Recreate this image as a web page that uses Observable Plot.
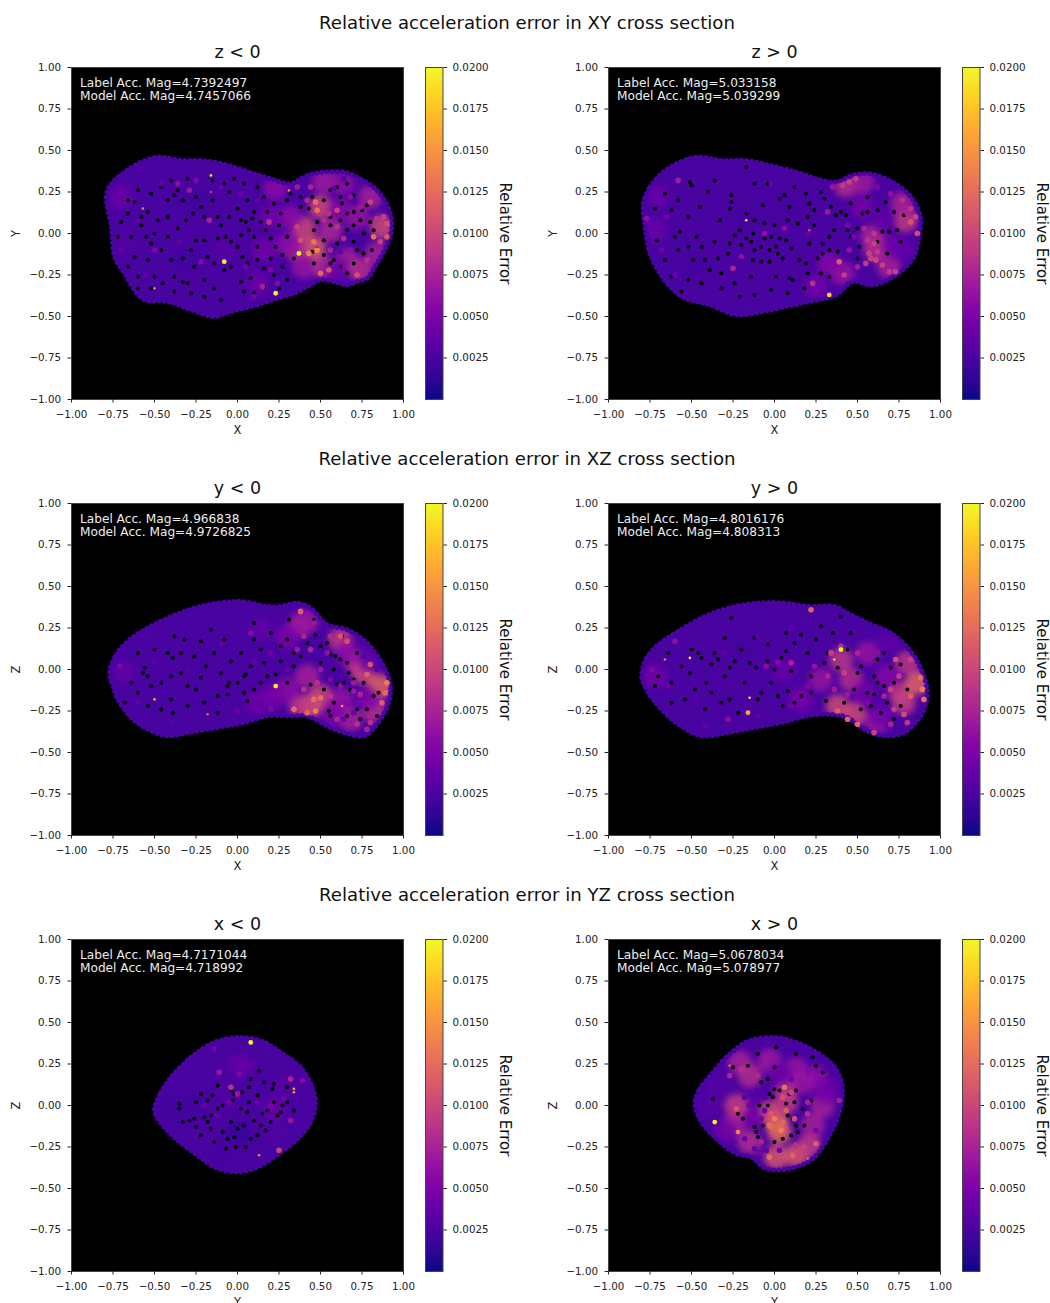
<!DOCTYPE html>
<html><head><meta charset="utf-8">
<script src="https://cdn.jsdelivr.net/npm/d3@7"></script>
<script src="https://cdn.jsdelivr.net/npm/@observablehq/plot@0.6"></script>
<style>
html,body{margin:0;padding:0;background:#fff}
#page{position:relative;width:1050px;height:1303px;overflow:hidden;background:#fff;font-family:"DejaVu Sans",sans-serif;color:#111}
.sup{position:absolute;left:0;width:1054px;text-align:center;font-size:18.15px;line-height:20px}
#page svg{position:absolute;overflow:visible;background:transparent}
</style></head><body><div id="page"></div>
<script>
const axisTicks=[-1,-.75,-.5,-.25,0,.25,.5,.75,1];
const barTicks=[.0025,.005,.0075,.01,.0125,.015,.0175,.02];
const sectionTitles=["Relative acceleration error in XY cross section","Relative acceleration error in XZ cross section","Relative acceleration error in YZ cross section"];
const baseError=.0024;

const xyNegOutline=[[-.79,.23],[-.76,.30],[-.68,.37],[-.58,.43],[-.48,.46],[-.34,.44],[-.24,.44],[-.14,.43],[-.02,.40],[.10,.36],[.20,.33],[.32,.30],[.42,.35],[.52,.37],[.64,.37],[.74,.33],[.84,.26],[.91,.15],[.93,.04],[.90,-.07],[.84,-.18],[.78,-.27],[.72,-.29],[.66,-.31],[.58,-.29],[.50,-.28],[.42,-.32],[.34,-.36],[.24,-.39],[.12,-.43],[-.04,-.47],[-.14,-.50],[-.28,-.46],[-.42,-.41],[-.56,-.40],[-.62,-.34],[-.68,-.24],[-.74,-.14],[-.76,.04]];
const xyNegWash=[[.23,.27,.0058],[.40,.03,.0105],[.46,-.09,.012],[.50,.16,.0105],[.56,.02,.008],[.66,-.16,.0072],[.72,.10,.0065],[.87,.04,.0105],[.80,.22,.0075],[.64,.30,.006],[.52,.31,.007],[.36,-.10,.0085],[.32,.10,.006],[.30,-.06,.0058],[.40,-.20,.0065],[.52,-.20,.0085],[.16,-.10,.0045],[.12,-.30,.004],[-.08,-.10,.003],[-.70,.22,.004],[.20,.10,.0045],[-.25,.2,.002],[-.3,-.15,.002],[-.68,-.05,.0028],[.6,-.22,.0042],[.62,.14,.0055],[.84,-.12,.0075],[.74,-.22,.0085]];
const xyNegGrain=[[-.17,.08,.0072],[-.36,.30,.0058],[-.29,.26,.0065],[-.25,.32,.0052],[-.50,-.1,.005],[-.22,-.17,.0055],[.15,-.32,.0075],[.19,.07,.0085],[.82,-.02,.0125],[.90,-.02,.011],[.84,.09,.0085],[.80,.19,.0095],[.58,.27,.0035],[.64,.33,.0028],[.60,-.21,.0038],[.70,.02,.0042],[.62,-.11,.0035],[.55,.12,.0085],[.60,.14,.0095],[.47,.19,.0125],[.48,.14,.0125],[.43,-.12,.0135],[.48,-.10,.014],[.46,-.05,.013],[.64,-.03,.008],[.72,-.25,.0105],[.50,-.24,.012],[.55,-.22,.011],[.36,.28,.007],[-.6,.08,.0035],[-.46,.3,.0035],[-.1,.28,.0036],[.02,.24,.0038],[.12,.2,.0034],[-.35,-.05,.0035],[-.55,-.25,.0036],[-.7,-.1,.0036],[.05,-.2,.0042],[.2,-.22,.0052],[.1,-.38,.0046],[.24,-.3,.0055],[.68,.22,.0058],[.74,.16,.0065],[.56,-.1,.0075],[.68,-.1,.006],[.78,-.16,.0085],[.88,.1,.0095],[.9,.06,.0105],[.86,-.05,.0095],[.6,.04,.0085],[.52,.08,.008],[.42,.2,.0075],[.44,.28,.0075],[.36,.04,.0095],[.38,-.04,.0105]];
const xyNegHoles=[[-.48,.08],[-.31,.08],[-.36,.26],[-.38,.23],[-.62,.19],[-.66,.20],[-.54,.13],[-.52,-.06],[-.62,-.14],[-.46,-.10],[-.38,-.26],[-.33,-.29],[-.30,-.30],[-.18,-.14],[-.07,-.02],[-.04,-.05],[0,.15],[.06,.20],[.07,.02],[.05,.07],[0,-.08],[.14,.07],[.12,-.08],[.16,-.21],[.04,-.35],[.16,-.32],[.30,.20],[.32,.24],[.43,.15],[.48,.07],[.46,.02],[.48,-.09],[.45,-.11],[.52,.20],[.60,.28],[.66,.30],[.70,.23],[.78,.17],[.75,.14],[.66,.02],[.70,.05],[.56,-.18],[.58,-.16],[.60,-.06],[.81,-.10],[.82,.02],[-.6,-.33],[-.5,-.26],[-.2,-.28],[-.14,-.33],[-.04,-.2],[.08,-.27],[-.1,.05],[-.2,.1],[-.42,.2],[-.5,.0],[-.58,.05],[-.25,-.04],[-.33,-.15],[.2,-.03],[.27,-.13],[.25,.05],[.1,.13],[-.05,.25],[-.15,.32],[.38,.22],[.63,.18],[.7,.13],[.72,-.1],[.66,-.24],[.56,.1],[.22,-.25],[-.45,-.3],[-.2,-.38],[.03,-.14],[-.66,.12],[-.6,.26],[-.52,.24],[-.46,.28],[-.4,.32],[-.3,.33],[-.33,.2],[-.25,.22],[-.22,.16],[-.15,.2],[-.08,.3],[-.02,.33],[.04,.3],[.12,.28],[.16,.22],[.22,.18],[.26,.12],[.18,.13],[-.05,.1],[.02,.08],[.09,.09],[-.12,.1],[-.27,.12],[-.42,.1],[-.58,.1],[-.7,.07],[-.72,-.02],[-.64,-.02],[-.55,-.02],[-.42,-.02],[-.36,.03],[-.28,-.1],[-.2,-.04],[-.12,-.03],[.02,-.01],[.1,-.02],[.17,.02],[.23,-.08],[.3,-.02],[.34,-.15],[.2,-.15],[.12,-.16],[.06,-.18],[-.08,-.22],[-.14,-.18],[-.26,-.2],[-.4,-.16],[-.54,-.16],[-.66,-.2],[-.6,-.26],[-.52,-.33],[-.38,-.35],[-.28,-.36],[-.1,-.4],[.02,-.29],[.1,-.36],[.25,-.33],[.3,-.28],[.27,-.2],[.38,.16],[.45,.22],[.56,.26],[.62,.22],[.66,.12],[.74,.08],[.8,.07],[.76,.0],[.62,.08],[.56,.05],[.52,-.04],[.7,-.05],[.76,-.12],[.7,-.18],[.62,-.2],[.52,-.13],[.46,-.18]];
const xyNegSpikes=[[-.08,-.17,.02],[.23,-.36,.02],[.37,-.12,.02]];
const xyNegSpecks=[[-.16,.35,.0185],[-.57,.15,.0135],[-.5,-.33,.014],[-.16,.25,.0095],[.31,.26,.0135]];

const xyPosOutline=[[-.79,.18],[-.75,.28],[-.67,.37],[-.57,.43],[-.47,.46],[-.31,.44],[-.17,.44],[-.03,.41],[.13,.37],[.25,.33],[.37,.31],[.47,.35],[.57,.36],[.71,.31],[.83,.21],[.88,.09],[.87,-.02],[.84,-.14],[.73,-.25],[.59,-.31],[.47,-.29],[.37,-.37],[.21,-.41],[.07,-.44],[-.07,-.47],[-.23,-.49],[-.39,-.43],[-.54,-.39],[-.62,-.33],[-.69,-.24],[-.75,-.12],[-.78,.04]];
const xyPosWash=[[.43,.29,.0085],[.53,.31,.007],[.79,.08,.0095],[.77,.18,.0075],[.61,-.10,.0085],[.59,-.02,.008],[.41,-.24,.0065],[.69,-.2,.0075],[.66,.08,.0035],[.53,.16,.0045],[.33,-.18,.0055],[.25,-.32,.0045],[-.72,.02,.004],[-.70,.22,.0038],[.72,-.08,.0045],[.78,-.1,.0035],[-.2,.1,.0022],[.1,.15,.0022],[-.45,-.2,.0022]];
const xyPosGrain=[[-.58,.32,.007],[-.77,.09,.006],[-.2,-.14,.006],[-.25,-.21,.0075],[.23,-.30,.0085],[.39,-.17,.0115],[.32,.13,.0065],[.06,.03,.006],[-.06,0,.006],[.61,-.16,.01],[.57,-.12,.0095],[.6,-.06,.0095],[.73,-.23,.0095],[.82,.07,.011],[.85,.10,.0095],[.86,0,.0105],[.77,.2,.0085],[.45,.31,.0095],[.49,.33,.009],[.41,.29,.009],[.55,-.18,.009],[.65,-.19,.0095],[.69,-.23,.009],[.54,.03,.0075],[.42,-.25,.009],[.82,.15,.0088],[.8,.12,.0075],[.58,-.15,.0095],[.62,-.11,.0092],[.6,.0,.0088],[.56,-.04,.0085],[.7,.24,.006],[.62,.28,.0052],[.35,.28,.0065],[-.68,-.1,.0042],[-.6,-.25,.0038],[-.65,.1,.0042],[.2,.0,.0038],[.45,-.1,.0062],[.5,-.2,.007],[.44,.05,.0052],[.48,-.02,.005],[-.02,.3,.0038]];
const xyPosHoles=[[-.51,.31],[-.5,.29],[-.26,.23],[-.26,.19],[-.17,.40],[.06,.23],[.03,.21],[.28,.25],[.30,.21],[.19,.24],[-.07,.17],[-.27,.15],[-.62,.14],[-.45,.16],[.46,.18],[.40,.13],[.37,.11],[.44,.02],[.43,.11],[.78,.11],[.67,.19],[.65,.01],[.69,.01],[.76,-.05],[.68,-.12],[.38,-.11],[.29,-.06],[.29,-.12],[.07,-.04],[.09,-.27],[.11,-.28],[-.32,-.33],[-.21,-.38],[-.39,-.22],[-.42,-.16],[-.57,.01],[-.72,.15],[-.71,-.04],[-.58,-.10],[-.47,-.02],[-.17,-.03],[-.13,0],[-.08,-.08],[-.03,-.17],[-.08,-.17],[.01,-.08],[.15,-.16],[.19,-.18],[.09,.16],[.21,.18],[-.21,.02],[-.27,-.06],[-.36,-.05],[-.49,-.16],[.53,.12],[.56,.13],[.51,-.08],[.33,-.02],[.24,.05],[.21,-.06],[-.33,.08],[-.56,-.35],[-.14,-.26],[.01,-.26],[-.02,-.02],[.02,-.12],[-.12,-.1],[-.66,.24],[-.58,.2],[-.52,.1],[-.4,.25],[-.36,.32],[-.12,.3],[-.04,.3],[.12,.28],[.2,.1],[.14,.06],[.08,.08],[-.17,.12],[-.12,.08],[-.06,.06],[.0,.05],[-.24,-.01],[-.2,-.07],[-.14,-.05],[-.06,-.03],[.03,-.03],[.1,-.09],[.05,-.15],[-.03,-.1],[-.13,-.16],[-.2,-.15],[-.28,-.12],[-.34,-.15],[-.44,-.08],[-.52,-.08],[-.6,-.02],[-.66,-.16],[-.62,-.26],[-.52,-.28],[-.44,-.3],[-.32,-.24],[-.24,-.3],[-.12,-.37],[-.02,-.34],[.08,-.36],[.18,-.33],[.2,-.24],[.28,-.24],[.33,-.26],[.33,-.1],[.26,-.15],[.24,.14],[.34,.16],[.5,.03],[.36,.02],[.56,.22],[.62,.14],[.72,.13],[.74,.02],[.62,-.05],[.5,-.15],[.46,-.02]];
const xyPosSpikes=[[.33,-.37,.018]];
const xyPosSpecks=[[-.17,.08,.019],[.21,.02,.0105]];

const xzNegOutline=[[-.77,-.02],[-.73,.09],[-.66,.17],[-.56,.24],[-.42,.31],[-.26,.37],[-.12,.40],[.02,.41],[.18,.38],[.26,.38],[.36,.40],[.44,.37],[.54,.27],[.66,.24],[.78,.16],[.88,.02],[.92,-.09],[.91,-.20],[.84,-.33],[.76,-.40],[.64,-.38],[.54,-.34],[.42,-.28],[.32,-.28],[.18,-.28],[.04,-.32],[-.12,-.35],[-.30,-.38],[-.42,-.40],[-.54,-.36],[-.64,-.29],[-.72,-.18],[-.75,-.10]];
const xzNegWash=[[.42,-.04,.0075],[.44,-.22,.0115],[.50,-.16,.0105],[.38,-.22,.009],[.38,.27,.0075],[.42,.29,.0065],[.62,.18,.0095],[.76,-.02,.0105],[.72,.04,.009],[.86,-.10,.0125],[.82,-.24,.009],[.68,-.3,.0075],[.66,.10,.006],[.30,-.12,.006],[.22,-.16,.0048],[.62,-.18,.0065],[.58,-.26,.0055],[.78,-.18,.005],[.80,.06,.0035],[.30,.20,.005],[.14,.24,.0035],[.12,-.2,.0042],[-.68,-.02,.0035],[-.2,.1,.0022],[-.2,-.2,.0022]];
const xzNegGrain=[[.08,.22,.0055],[.38,.35,.0115],[.44,.12,.0075],[.62,.2,.011],[.66,.17,.0105],[.8,.03,.011],[.78,-.03,.0115],[.9,-.08,.0135],[.89,-.14,.0125],[.87,-.2,.0115],[.47,-.25,.0135],[.5,-.17,.0125],[.46,-.18,.0125],[.64,-.3,.004],[.7,-.26,.004],[.6,-.3,.0075],[.8,-.32,.0085],[.74,-.22,.004],[.76,.08,.0032],[.84,.0,.0035],[.3,.0,.004],[.7,-.13,.0065],[-.71,.02,.005],[.4,.2,.0075],[.36,.12,.0065],[.46,.28,.0065],[.56,.2,.0078],[.54,.1,.006],[.5,.0,.0065],[.56,-.06,.0052],[.62,-.1,.006],[.7,-.08,.0068],[.74,-.15,.0075],[.66,-.2,.0055],[.8,-.28,.0075],[.72,-.33,.0082],[.78,-.36,.0072],[.4,-.12,.0085],[.48,-.08,.0085],[.56,-.16,.0085],[.34,-.24,.0125],[.42,-.26,.012],[.2,.1,.0042],[.1,.05,.0036],[-.1,.15,.0034],[-.3,.0,.003],[-.5,.05,.0032],[-.6,-.2,.0032],[-.4,-.32,.0032],[0,-.25,.004],[.2,-.24,.0052]];
const xzNegHoles=[[-.56,.01],[-.57,-.02],[-.54,-.04],[-.42,.10],[-.39,.07],[-.34,-.02],[-.19,.02],[-.05,-.08],[-.06,-.1],[.05,-.03],[.04,-.04],[.23,-.03],[.18,-.04],[.34,.02],[.31,.30],[.47,.21],[.56,.09],[.62,.06],[.67,-.02],[.70,-.06],[.68,-.12],[.44,-.09],[.55,-.25],[.56,-.28],[.78,-.24],[.72,-.24],[.63,.20],[.50,.14],[.06,-.19],[-.39,-.26],[-.06,-.15],[.10,.28],[-.32,.18],[-.08,.18],[.02,.10],[.14,.12],[.26,.14],[.30,.18],[-.25,-.12],[-.30,-.10],[-.64,-.08],[-.68,-.20],[-.46,-.08],[-.12,-.16],[.04,-.14],[.38,.08],[-.22,.17],[-.38,.20],[.10,.18],[-.16,.24],[.20,.22],[.58,0],[.50,.04],[.85,-.14],[-.40,-.18],[-.30,-.22],[-.46,-.24],[.59,.08],[.66,.04],[.6,-.09],[-.5,.12],[-.6,.1],[-.52,-.1],[-.34,.1],[-.26,.08],[-.14,.1],[-.04,.05],[.08,.02],[.14,-.08],[.26,.05],[.3,-.08],[-.1,-.02],[-.22,-.05],[-.4,-.04],[-.6,-.14],[-.54,-.22],[-.2,-.2],[-.12,-.26],[.0,-.08],[.1,-.12],[.16,.04],[.34,.1],[.42,.16],[.46,.3],[.54,.16],[.72,.1],[.76,-.08],[.64,-.08],[.52,-.12],[.58,-.2],[.66,-.28],[.74,-.3],[.82,-.16],[.84,-.28]];
const xzNegSpikes=[[.23,-.10,.02]];
const xzNegSpecks=[[-.50,-.18,.0165],[-.18,-.27,.012],[.63,-.22,.015],[.38,.34,.012]];

const xzPosOutline=[[-.80,-.04],[-.77,.07],[-.70,.15],[-.58,.23],[-.44,.31],[-.28,.37],[-.10,.40],[.06,.40],[.20,.38],[.36,.38],[.46,.33],[.56,.28],[.70,.22],[.82,.11],[.90,-.04],[.92,-.16],[.88,-.28],[.78,-.38],[.66,-.40],[.54,-.36],[.44,-.29],[.34,-.27],[.20,-.28],[.04,-.32],[-.12,-.35],[-.28,-.38],[-.44,-.40],[-.58,-.33],[-.68,-.24],[-.76,-.14]];
const xzPosWash=[[.40,.06,.009],[.46,-.06,.0085],[.28,-.06,.0065],[.56,.1,.0065],[.38,-.22,.0105],[.48,-.27,.0105],[.76,-.14,.0095],[.86,-.08,.0125],[.8,.04,.009],[.78,-.2,.0095],[.62,-.31,.0075],[.68,.16,.0035],[.54,-.14,.0045],[.64,-.28,.004],[.68,-.04,.0055],[.16,-.18,.0048],[.06,0,.0038],[-.72,-.04,.0045],[-.2,.1,.0022],[-.3,-.2,.0022]];
const xzPosGrain=[[.42,-.02,.0095],[.34,.1,.0095],[.89,-.12,.0135],[.9,-.18,.0125],[.88,-.05,.0125],[.82,-.16,.0115],[.78,-.27,.0105],[.44,-.3,.012],[.5,-.33,.012],[.38,-.25,.0115],[.1,.04,.0075],[.02,.04,.0055],[-.6,.17,.006],[-.28,-.3,.006],[.32,-.04,.0075],[.7,-.12,.0095],[.75,-.04,.009],[.82,.06,.0095],[.73,.06,.0105],[.22,.36,.012],[.4,.14,.0082],[.5,.1,.0075],[.36,-.12,.0068],[.24,.02,.0062],[.2,-.1,.0052],[.62,.1,.0058],[.66,-.16,.0072],[.72,-.24,.0092],[.8,-.32,.0088],[.7,-.33,.0075],[.6,-.38,.0095],[.56,-.2,.0052],[.44,-.15,.0065],[-.74,.0,.0052],[-.64,-.1,.0042],[-.3,.1,.0034],[-.1,.2,.0032],[.1,.25,.0035],[-.42,-.34,.0034],[-.1,-.28,.0035],[.1,-.22,.0042],[-.05,.02,.0058]];
const xzPosHoles=[[-.64,.10],[-.46,.10],[-.44,.07],[-.38,.03],[-.26,.31],[-.12,.19],[.07,.22],[-.24,.05],[-.27,.01],[-.11,.01],[-.15,.04],[.07,.11],[.04,.07],[-.04,.05],[-.41,-.08],[-.70,-.04],[.40,.32],[.46,.22],[.32,.10],[.62,.06],[.70,.01],[.56,-.14],[.60,-.15],[.68,-.20],[.64,-.26],[.80,-.12],[.38,.01],[.31,-.19],[.12,-.20],[.05,-.22],[-.10,-.18],[-.27,-.18],[-.32,-.20],[.25,.18],[.16,.21],[.28,.26],[.35,.22],[-.62,-.08],[-.54,-.18],[-.42,-.24],[-.02,-.08],[.10,-.01],[.16,-.16],[-.30,.19],[-.36,.10],[-.51,-.02],[-.72,-.10],[.72,-.08],[.58,-.22],[.50,-.02],[-.5,.12],[-.56,.02],[-.34,.06],[-.3,-.04],[-.2,.12],[-.04,.15],[.12,.16],[.2,.1],[.0,.0],[-.18,-.08],[-.08,-.14],[.02,-.16],[.08,-.13],[.22,-.14],[.22,-.04],[.3,.04],[.44,.12],[.52,.02],[.6,-.04],[.66,-.1],[.48,-.12],[.42,-.2],[.52,-.24],[.76,-.22],[.72,-.3],[.62,-.08],[-.62,-.2],[-.48,-.12],[-.38,-.14],[-.22,-.26],[.66,.1],[.76,.03]];
const xzPosSpikes=[[.40,.12,.02],[-.16,-.26,.016]];
const xzPosSpecks=[[-.66,.06,.0135],[-.51,.07,.019],[-.15,-.17,.019],[.36,.06,.018],[.22,.36,.012]];

const yzNegOutline=[[-.50,-.03],[-.46,.08],[-.40,.17],[-.28,.29],[-.14,.38],[0,.41],[.14,.39],[.26,.32],[.38,.23],[.45,.11],[.47,0],[.43,-.12],[.34,-.22],[.22,-.31],[.10,-.38],[-.02,-.40],[-.14,-.37],[-.24,-.30],[-.36,-.21],[-.45,-.12]];
const yzNegWash=[[.02,.24,.0038],[.22,-.02,.0038],[-.08,.04,.0028],[0,-.16,.0015],[-.28,-.02,.002],[-.40,-.02,.002],[.28,.12,.003],[-.10,-.3,.0022],[.22,-.16,.0028]];
const yzNegGrain=[[-.11,.20,.0065],[-.04,.11,.0085],[0,.07,.0065],[-.14,.34,.0045],[.01,.19,.005],[.32,-.09,.0065],[.32,.16,.0075],[.39,.15,.0055],[.25,-.27,.0095],[.2,.0,.0048],[.28,.04,.0045],[.12,.02,.0042],[-.05,.02,.0045],[-.12,-.06,.004],[-.2,.0,.0038],[-.3,.1,.0025],[.1,.25,.0035]];
const yzNegHoles=[[-.35,.01],[-.35,-.02],[-.33,-.10],[-.26,-.08],[-.16,-.06],[-.15,.06],[-.22,.07],[-.04,.09],[-.02,.07],[-.09,0],[.02,-.02],[.07,.11],[.16,.14],[.15,-.05],[.24,-.06],[.18,-.03],[.34,-.03],[.30,.11],[.21,.10],[.13,.21],[.17,-.15],[.12,-.18],[-.01,-.25],[-.07,-.26],[-.12,.12],[-.25,.02],[-.18,-.10],[-.09,-.16],[.04,-.12],[-.22,-.18],[.07,.02],[-.04,-.10],[-.14,-.22],[.12,.06],[.26,-.04],[-.29,-.09],[-.2,-.07],[-.12,-.02],[-.03,.03],[.06,-.04],[.1,-.09],[.2,-.1],[.08,-.2],[.0,-.14],[-.06,-.2],[-.16,-.14],[-.25,-.13],[.27,.0],[.3,.02],[.22,.02],[.03,.08],[-.18,.03],[.14,-.12],[-.02,-.19],[.05,-.25],[.22,.13],[.08,.16]];
const yzNegSpikes=[[.08,.38,.02]];
const yzNegSpecks=[[.13,-.30,.014],[.34,.08,.015],[.34,.1,.016]];

const yzPosOutline=[[-.48,.01],[-.45,.10],[-.37,.20],[-.27,.31],[-.15,.39],[.01,.41],[.13,.38],[.27,.31],[.37,.22],[.41,.10],[.39,-.04],[.33,-.18],[.23,-.32],[.09,-.38],[-.05,-.38],[-.14,-.31],[-.23,-.29],[-.35,-.20],[-.44,-.10]];
const yzPosWash=[[.01,-.10,.0125],[.03,-.16,.0125],[-.03,-.04,.0105],[.07,.02,.0095],[.07,.10,.009],[-.14,.08,.003],[-.15,-.06,.0045],[-.23,0,.0095],[-.25,-.12,.0075],[-.15,-.22,.0085],[.01,-.31,.0115],[.13,-.3,.0115],[.21,-.24,.0095],[.29,0,.0075],[.23,-.12,.0075],[-.21,.26,.0075],[-.15,.18,.0085],[-.03,.27,.007],[.13,.22,.0065],[.25,.17,.006],[.03,.19,.004],[-.38,0,.003],[-.34,.14,.003],[-.30,-.16,.004],[.17,.14,.0065],[.31,.08,.0045]];
const yzPosGrain=[[.04,-.15,.0135],[0,-.08,.0135],[.06,.11,.0125],[-.23,-.02,.011],[-.03,-.31,.0125],[.11,-.30,.012],[.25,-.23,.0115],[.39,.03,.007],[-.09,-.28,.0045],[-.18,-.20,.004],[-.05,-.27,.0035],[.03,-.27,.0045],[.25,-.15,.005],[-.16,.35,.003],[-.15,0,.004],[-.11,.09,.003],[-.13,-.08,.0045],[.07,-.03,.0115],[-.02,-.13,.012],[.12,-.08,.0105],[-.12,-.26,.004],[.13,-.24,.0085],[.18,-.25,.0095],[-.08,-.22,.0075],[-.06,.05,.003],[-.18,.05,.0032],[-.12,.03,.0035],[-.06,-.03,.0042],[-.08,-.08,.0045],[.2,.02,.0072],[.2,-.05,.0082],[-.03,-.12,.0125],[.05,-.1,.012],[-.02,-.05,.0112],[.05,.05,.0105],[.1,.08,.0098],[-.27,.18,.0075],[-.2,.22,.0082],[-.1,.18,.0078],[.2,.2,.0055],[.0,.14,.0038],[.1,.16,.0038]];
const yzPosHoles=[[0,.10],[.03,.09],[-.04,0],[-.09,0],[.08,-.06],[.11,-.08],[-.11,-.16],[-.12,-.13],[-.19,-.08],[-.22,-.05],[.13,-.12],[.14,-.16],[.22,.03],[.13,.31],[0,.23],[-.04,.16],[-.08,.14],[-.16,.24],[-.25,.23],[.29,.20],[.25,.24],[.23,.29],[-.37,.04],[.01,.35],[-.10,.31],[-.07,-.12],[.07,.01],[-.03,.07],[.13,.09],[.17,-.02],[.18,-.12],[.05,-.20],[0,-.22],[.12,.02],[-.1,-.19],[.1,-.18],[-.01,.05],[.09,.07]];
const yzPosSpikes=[[-.36,-.10,.02],[-.22,-.16,.014]];
const yzPosSpecks=[[-.27,.24,.0115],[.2,-.32,.0125]];

const panels=[
 {title:"z < 0",xl:"X",yl:"Y",left:71,top:67,note:"Label Acc. Mag=4.7392497\nModel Acc. Mag=4.7457066",outline:xyNegOutline,wash:xyNegWash,grain:xyNegGrain,holes:xyNegHoles,spikes:xyNegSpikes,specks:xyNegSpecks},
 {title:"z > 0",xl:"X",yl:"Y",left:608,top:67,note:"Label Acc. Mag=5.033158\nModel Acc. Mag=5.039299",outline:xyPosOutline,wash:xyPosWash,grain:xyPosGrain,holes:xyPosHoles,spikes:xyPosSpikes,specks:xyPosSpecks},
 {title:"y < 0",xl:"X",yl:"Z",left:71,top:503,note:"Label Acc. Mag=4.966838\nModel Acc. Mag=4.9726825",outline:xzNegOutline,wash:xzNegWash,grain:xzNegGrain,holes:xzNegHoles,spikes:xzNegSpikes,specks:xzNegSpecks},
 {title:"y > 0",xl:"X",yl:"Z",left:608,top:503,note:"Label Acc. Mag=4.8016176\nModel Acc. Mag=4.808313",outline:xzPosOutline,wash:xzPosWash,grain:xzPosGrain,holes:xzPosHoles,spikes:xzPosSpikes,specks:xzPosSpecks},
 {title:"x < 0",xl:"Y",yl:"Z",left:71,top:939,note:"Label Acc. Mag=4.7171044\nModel Acc. Mag=4.718992",outline:yzNegOutline,wash:yzNegWash,grain:yzNegGrain,holes:yzNegHoles,spikes:yzNegSpikes,specks:yzNegSpecks},
 {title:"x > 0",xl:"Y",yl:"Z",left:608,top:939,note:"Label Acc. Mag=5.0678034\nModel Acc. Mag=5.078977",outline:yzPosOutline,wash:yzPosWash,grain:yzPosGrain,holes:yzPosHoles,spikes:yzPosSpikes,specks:yzPosSpecks}
];

const page=document.getElementById("page");
const color={type:"linear",domain:[0,.02],scheme:"plasma",clamp:true};
const tf=d3.format(".2f");
const X=d=>d[0],Y=d=>d[1],E=d=>d[2];
const curve="catmull-rom-closed";
const font={fontFamily:"'DejaVu Sans'",fontSize:"10.3px",color:"#222",background:"transparent"};

sectionTitles.forEach((t,i)=>{
  const d=document.createElement("div");d.className="sup";d.textContent=t;
  d.style.top=[13,449,885][i]+"px";page.appendChild(d);
});

panels.forEach((p,k)=>{
  const ml=71,mt=40,mb=50,mr=32,inner=332;
  const chart=Plot.plot({
    width:ml+inner+mr,height:mt+inner+mb,marginLeft:ml,marginRight:mr,marginTop:mt,marginBottom:mb,
    style:font,color,
    x:{domain:[-1,1]},y:{domain:[-1,1]},
    marks:[
      Plot.frame({fill:"black"}),
      Plot.line(p.outline,{x:X,y:Y,fill:()=>baseError,stroke:()=>baseError,curve}),
      Plot.dot(p.wash,{x:X,y:Y,fill:E,r:12,fillOpacity:.8,imageFilter:"blur(3px)"}),
      Plot.line(p.outline,{x:X,y:Y,stroke:()=>baseError,strokeWidth:5,strokeDasharray:"0.1 5",strokeLinecap:"round",curve}),
      Plot.dot(p.holes,{x:X,y:Y,r:2,fill:"black"}),
      Plot.dot(p.grain,{x:X,y:Y,r:2.8,fill:E}),
      Plot.dot(p.specks,{x:X,y:Y,r:1.3,fill:E}),
      Plot.dot(p.spikes,{x:X,y:Y,r:2.4,fill:E}),
      Plot.frame({stroke:"#444"}),
      Plot.axisX({ticks:axisTicks,tickFormat:tf,tickSize:3.5,tickPadding:8,label:null,fontSize:10.3}),
      Plot.axisY({ticks:axisTicks,tickFormat:tf,tickSize:3.5,tickPadding:7,label:null,fontSize:10.3}),
      Plot.text([p.xl],{frameAnchor:"bottom",dy:34,fontSize:11.5,fill:"#222"}),
      Plot.text([p.yl],{frameAnchor:"left",dx:-55,rotate:-90,textAnchor:"middle",fontSize:11.5,fill:"#222"}),
      Plot.text([p.title],{frameAnchor:"top",dy:-22,fontSize:17.5,fill:"#111"}),
      Plot.text([p.note],{frameAnchor:"top-left",dx:8.5,dy:10.5,lineAnchor:"top",lineHeight:1.07,fontSize:12.15,fill:"#eee"})
    ]
  });
  chart.style.left=(p.left-ml)+"px";chart.style.top=(p.top-mt)+"px";
  // keep the soft wash inside the body outline
  const bodyPath=chart.querySelector('g[aria-label="line"] path');
  const washGroup=chart.querySelector('g[aria-label="dot"]');
  if(bodyPath&&washGroup){
    const cp=document.createElementNS("http://www.w3.org/2000/svg","clipPath");
    cp.id="bodyClip"+k;
    const pth=bodyPath.cloneNode();pth.removeAttribute("fill");pth.removeAttribute("stroke");
    const t=bodyPath.parentNode.getAttribute("transform");
    if(t)pth.setAttribute("transform",t);
    cp.appendChild(pth);chart.appendChild(cp);
    const wrap=document.createElementNS("http://www.w3.org/2000/svg","g");
    wrap.setAttribute("clip-path","url(#bodyClip"+k+")");
    washGroup.parentNode.insertBefore(wrap,washGroup);wrap.appendChild(washGroup);
  }
  page.appendChild(chart);

  const w=17.5,mrb=90,h=332,stops=d3.range(0,.02,.0001);
  const bar=Plot.plot({
    width:w+mrb,height:h+20,marginLeft:0,marginRight:mrb,marginTop:10,marginBottom:10,
    style:font,color,
    x:{domain:[0,1],axis:null},y:{domain:[0,.02]},
    marks:[
      Plot.rect(stops,{x1:()=>0,x2:()=>1,y1:d=>d,y2:d=>d+.00011,fill:d=>d,inset:0,shapeRendering:"crispEdges"}),
      Plot.frame({stroke:"#444"}),
      Plot.axisY({anchor:"right",ticks:barTicks,tickFormat:d3.format(".4f"),tickSize:3.5,tickPadding:6,label:null,fontSize:10.3}),
      Plot.text(["Relative Error"],{frameAnchor:"right",dx:62,rotate:90,textAnchor:"middle",fontSize:15,fill:"#111"})
    ]
  });
  bar.style.left=(p.left+354)+"px";bar.style.top=(p.top-10)+"px";
  page.appendChild(bar);
});
</script></body></html>
